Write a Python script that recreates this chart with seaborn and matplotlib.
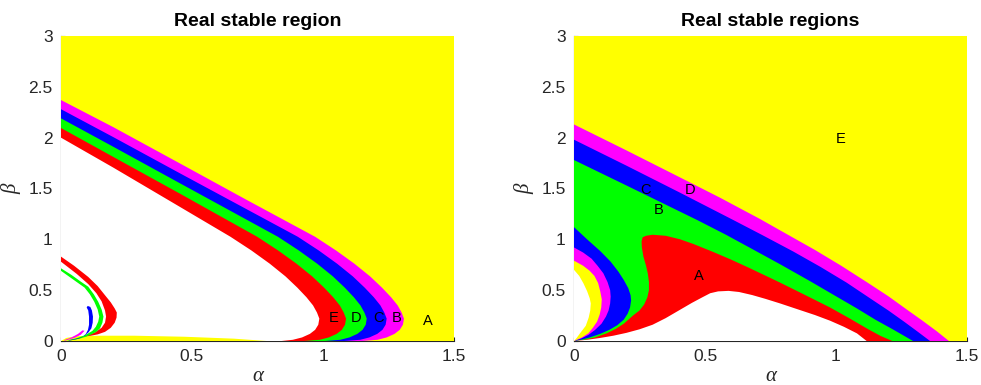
import numpy as np
import matplotlib
matplotlib.use("Agg")
import matplotlib.pyplot as plt
import seaborn as sns

sns.set_theme(style="ticks")
plt.rcParams["font.family"] = ["Liberation Sans", "DejaVu Sans"]

YELLOW, MAGENTA, BLUE, GREEN, RED, WHITE = "#ffff00", "#ff00ff", "#0000ff", "#00ff00", "#ff0000", "#ffffff"
INK = "#262626"

# ---------------- left panel: boundaries of the nested bands (alpha, beta) ----------------
# each runs from the beta axis, round the tip and back down to the alpha axis
L_white_red_a = [0, 0.2, 0.45, 0.647, 0.727, 0.797, 0.857, 0.902, 0.937, 0.962, 0.977, 0.986,
                 0.982, 0.970, 0.950, 0.920, 0.885, 0.842]
L_white_red_b = [2.0, 1.705, 1.325, 1.025, 0.89, 0.76, 0.635, 0.525, 0.43, 0.35, 0.28, 0.22,
                 0.16, 0.11, 0.07, 0.035, 0.012, 0.0]
L_red_green_a = [0, 0.2, 0.45, 0.749, 0.829, 0.899, 0.959, 1.004, 1.039, 1.064, 1.079, 1.088,
                 1.084, 1.072, 1.052, 1.022, 0.987, 0.927]
L_red_green_b = [2.095, 1.81, 1.455, 1.025, 0.89, 0.76, 0.635, 0.525, 0.43, 0.35, 0.28, 0.22,
                 0.16, 0.11, 0.07, 0.035, 0.012, 0.0]
L_green_blue_a = [0, 0.2, 0.45, 0.828, 0.908, 0.978, 1.038, 1.083, 1.118, 1.143, 1.158, 1.167,
                  1.163, 1.151, 1.131, 1.101, 1.066, 1.008]
L_green_blue_b = [2.19, 1.91, 1.557, 1.025, 0.89, 0.76, 0.635, 0.525, 0.43, 0.35, 0.28, 0.22,
                  0.16, 0.11, 0.07, 0.035, 0.012, 0.0]
L_blue_mag_a = [0, 0.2, 0.45, 0.904, 0.984, 1.054, 1.114, 1.159, 1.194, 1.219, 1.234, 1.243,
                1.239, 1.227, 1.207, 1.177, 1.142, 1.080]
L_blue_mag_b = [2.28, 2.005, 1.655, 1.025, 0.89, 0.76, 0.635, 0.525, 0.43, 0.35, 0.28, 0.22,
                0.16, 0.11, 0.07, 0.035, 0.012, 0.0]
L_mag_yel_a = [0, 0.2, 0.45, 0.7, 0.97, 1.05, 1.12, 1.18, 1.225, 1.26, 1.285, 1.30, 1.309,
               1.305, 1.293, 1.273, 1.243, 1.208, 1.150]
L_mag_yel_b = [2.37, 2.103, 1.752, 1.40, 1.025, 0.89, 0.76, 0.635, 0.525, 0.43, 0.35, 0.28, 0.22,
               0.16, 0.11, 0.07, 0.035, 0.012, 0.0]

# small closed pieces near the origin
L_sliver_a = [0, 0.02, 0.06, 0.15, 0.28, 0.47, 0.53, 0.66, 0.785]
L_sliver_b = [0, 0.03, 0.048, 0.052, 0.052, 0.042, 0.036, 0.023, 0.0]
L_red_cres_a = [0, 0.05, 0.104, 0.14, 0.168, 0.19, 0.205, 0.213, 0.212, 0.205, 0.19, 0.168, 0.14,
                0.11, 0.09, 0.10, 0.13, 0.155, 0.168, 0.172, 0.168, 0.155, 0.135, 0.104, 0.06, 0.025, 0]
L_red_cres_b = [0.83, 0.74, 0.63, 0.54, 0.45, 0.38, 0.32, 0.28, 0.23, 0.18, 0.13, 0.09, 0.065,
                0.05, 0.045, 0.055, 0.085, 0.13, 0.18, 0.24, 0.30, 0.39, 0.47, 0.56, 0.66, 0.73, 0.78]
L_grn_cres_a = [0, 0.04, 0.075, 0.104, 0.125, 0.142, 0.155, 0.162, 0.158, 0.149, 0.135, 0.117, 0.095,
                0.07, 0.04, 0.02, 0.035, 0.06, 0.085, 0.104, 0.12, 0.133, 0.142, 0.146, 0.14, 0.127,
                0.11, 0.09, 0.06, 0.03, 0]
L_grn_cres_b = [0.715, 0.65, 0.585, 0.534, 0.46, 0.386, 0.31, 0.24, 0.18, 0.125, 0.09, 0.066, 0.042,
                0.022, 0.008, 0.003, 0.012, 0.028, 0.05, 0.075, 0.10, 0.14, 0.19, 0.24, 0.31, 0.386,
                0.46, 0.525, 0.58, 0.635, 0.69]
L_blu_hook_a = [0.102, 0.112, 0.118, 0.122, 0.121, 0.116, 0.105, 0.09, 0.072, 0.052, 0.03,
                0.028, 0.05, 0.068, 0.083, 0.095, 0.103, 0.107, 0.107, 0.104, 0.098]
L_blu_hook_b = [0.345, 0.335, 0.30, 0.24, 0.18, 0.125, 0.085, 0.052, 0.032, 0.018, 0.008,
                0.004, 0.012, 0.024, 0.042, 0.07, 0.11, 0.16, 0.24, 0.30, 0.33]
L_mag_bit_a = [0.015, 0.05, 0.075, 0.09, 0.082, 0.065, 0.04, 0.012]
L_mag_bit_b = [0.003, 0.03, 0.06, 0.10, 0.105, 0.07, 0.035, 0.008]

# ---------------- right panel ----------------
R_yel_mag_a = [0, 0.2, 0.4, 0.557, 0.71, 0.82, 0.92, 1.02, 1.12, 1.2, 1.27, 1.33, 1.385, 1.431]
R_yel_mag_b = [2.13, 1.875, 1.615, 1.41, 1.20, 1.04, 0.895, 0.74, 0.575, 0.44, 0.31, 0.2, 0.095, 0.0]
R_mag_blue_a = [0, 0.2, 0.4, 0.608, 0.72, 0.837, 0.94, 1.04, 1.13, 1.2, 1.26, 1.31, 1.359]
R_mag_blue_b = [1.98, 1.725, 1.465, 1.19, 1.04, 0.88, 0.73, 0.575, 0.42, 0.3, 0.19, 0.095, 0.0]
R_blue_grn_a = [0, 0.2, 0.47, 0.58, 0.68, 0.79, 0.9, 1.0, 1.08, 1.15, 1.22, 1.294]
R_blue_grn_b = [1.78, 1.53, 1.19, 1.045, 0.905, 0.75, 0.59, 0.44, 0.32, 0.21, 0.11, 0.0]
# red island: left edge up from the origin, then its upper edge down to the alpha axis
R_red_a = [0, 0.04, 0.08, 0.125, 0.16, 0.19, 0.225, 0.25, 0.268, 0.28, 0.286, 0.286, 0.282, 0.275,
           0.265, 0.259, 0.258, 0.262, 0.275, 0.30, 0.35, 0.405, 0.455, 0.532, 0.6, 0.672, 0.786,
           0.88, 0.977, 1.05, 1.12, 1.17, 1.215]
R_red_b = [0, 0.012, 0.035, 0.076, 0.12, 0.17, 0.25, 0.30, 0.36, 0.43, 0.5, 0.58, 0.66, 0.74,
           0.83, 0.92, 0.98, 1.02, 1.035, 1.045, 1.035, 1.0, 0.955, 0.875, 0.80, 0.715, 0.575,
           0.455, 0.33, 0.225, 0.12, 0.05, 0.0]
R_white_a = [0, 0.05, 0.1, 0.15, 0.2, 0.25, 0.3, 0.35, 0.4, 0.45, 0.49, 0.52, 0.55, 0.59, 0.63,
             0.68, 0.73, 0.786, 0.85, 0.92, 0.977, 1.03, 1.08, 1.117]
R_white_b = [0, 0.012, 0.03, 0.052, 0.08, 0.115, 0.16, 0.225, 0.30, 0.375, 0.43, 0.47, 0.488, 0.493,
             0.482, 0.452, 0.415, 0.37, 0.315, 0.255, 0.2, 0.14, 0.075, 0.0]
# crescents hugging the beta axis, each from the axis down to the origin
R_blue_cres_a = [0, 0.05, 0.1, 0.14, 0.17, 0.19, 0.207, 0.216, 0.218, 0.214, 0.205, 0.19, 0.165,
                 0.135, 0.1, 0.06, 0.03, 0]
R_blue_cres_b = [1.12, 1.0, 0.885, 0.78, 0.68, 0.6, 0.52, 0.45, 0.40, 0.33, 0.27, 0.21, 0.155,
                 0.11, 0.07, 0.035, 0.014, 0]
R_mag_cres_a = [0, 0.035, 0.067, 0.09, 0.112, 0.128, 0.138, 0.14, 0.138, 0.132, 0.122, 0.105,
                0.08, 0.055, 0.028, 0]
R_mag_cres_b = [0.92, 0.87, 0.81, 0.74, 0.666, 0.58, 0.5, 0.436, 0.37, 0.30, 0.24, 0.17,
                0.108, 0.06, 0.025, 0]
R_yel_cres_a = [0, 0.035, 0.06, 0.078, 0.092, 0.1, 0.106, 0.104, 0.098, 0.088, 0.072, 0.055, 0.03, 0]
R_yel_cres_b = [0.79, 0.74, 0.69, 0.64, 0.57, 0.49, 0.41, 0.33, 0.26, 0.19, 0.13, 0.076, 0.035, 0]
R_wht_cres_a = [0, 0.02, 0.036, 0.05, 0.06, 0.064, 0.062, 0.056, 0.045, 0.023, 0.01, 0]
R_wht_cres_b = [0.70, 0.64, 0.567, 0.49, 0.42, 0.37, 0.30, 0.23, 0.15, 0.076, 0.03, 0]

L_labels = ["E", "D", "C", "B", "A"]
L_label_a = [1.04, 1.128, 1.21, 1.281, 1.40]
L_label_b = [0.23, 0.23, 0.23, 0.23, 0.20]
R_labels = ["A", "B", "C", "D", "E"]
R_label_a = [0.478, 0.322, 0.271, 0.443, 1.018]
R_label_b = [0.64, 1.29, 1.49, 1.49, 1.99]

x_ticks = [0, 0.5, 1, 1.5]
y_ticks = [0, 0.5, 1, 1.5, 2, 2.5, 3]


def under(ax, a, b, color, z):
    """Fill the region between a boundary curve and the two axes."""
    ax.fill(list(a) + [0], list(b) + [0], color=color, lw=0, zorder=z)


def shape(ax, a, b, color, z):
    ax.fill(a, b, color=color, lw=0, zorder=z)


fig = plt.figure(figsize=(9.81, 3.85), dpi=100)
axL = fig.add_axes([61 / 981, 44 / 385, 393 / 981, 305 / 385])
axR = fig.add_axes([574 / 981, 44 / 385, 393 / 981, 305 / 385])

# left panel
axL.fill([0, 1.5, 1.5, 0], [0, 0, 3, 3], color=YELLOW, lw=0, zorder=1)
under(axL, L_mag_yel_a, L_mag_yel_b, MAGENTA, 2)
under(axL, L_blue_mag_a, L_blue_mag_b, BLUE, 3)
under(axL, L_green_blue_a, L_green_blue_b, GREEN, 4)
under(axL, L_red_green_a, L_red_green_b, RED, 5)
under(axL, L_white_red_a, L_white_red_b, WHITE, 6)
shape(axL, L_sliver_a, L_sliver_b, YELLOW, 7)
shape(axL, L_red_cres_a, L_red_cres_b, RED, 7)
shape(axL, L_grn_cres_a, L_grn_cres_b, GREEN, 7)
shape(axL, L_blu_hook_a, L_blu_hook_b, BLUE, 8)
shape(axL, L_mag_bit_a, L_mag_bit_b, MAGENTA, 8)
for t, a, b in zip(L_labels, L_label_a, L_label_b):
    axL.text(a, b, t, ha="center", va="center", fontsize=10.5, color="black", zorder=10)

# right panel
axR.fill([0, 1.5, 1.5, 0], [0, 0, 3, 3], color=YELLOW, lw=0, zorder=1)
under(axR, R_yel_mag_a, R_yel_mag_b, MAGENTA, 2)
under(axR, R_mag_blue_a, R_mag_blue_b, BLUE, 3)
under(axR, R_blue_grn_a, R_blue_grn_b, GREEN, 4)
shape(axR, R_red_a, R_red_b, RED, 5)
shape(axR, R_white_a, R_white_b, WHITE, 6)
under(axR, R_blue_cres_a, R_blue_cres_b, BLUE, 7)
under(axR, R_mag_cres_a, R_mag_cres_b, MAGENTA, 8)
under(axR, R_yel_cres_a, R_yel_cres_b, YELLOW, 9)
under(axR, R_wht_cres_a, R_wht_cres_b, WHITE, 10)
for t, a, b in zip(R_labels, R_label_a, R_label_b):
    axR.text(a, b, t, ha="center", va="center", fontsize=10.5, color="black", zorder=12)

for ax, title in [(axL, "Real stable region"), (axR, "Real stable regions")]:
    ax.set_xlim(0, 1.5)
    ax.set_ylim(0, 3)
    ax.set_xticks(x_ticks)
    ax.set_xticklabels([f"{v:g}" for v in x_ticks])
    ax.set_yticks(y_ticks)
    ax.set_yticklabels([f"{v:g}" for v in y_ticks])
    ax.set_axisbelow(True)
    sns.despine(ax=ax)
    for s in ("left", "bottom"):
        ax.spines[s].set_color(INK)
        ax.spines[s].set_linewidth(0.8)
        ax.spines[s].set_zorder(0.5)
    ax.tick_params(direction="in", length=3, width=0.8, color=INK, labelcolor=INK,
                   labelsize=12.5, pad=6)
    ax.set_title(title, fontsize=14, fontweight="bold", color="black", pad=7)
    ax.set_xlabel("α", fontsize=15, fontstyle="italic", family=["Liberation Serif", "DejaVu Serif"],
                  color=INK, labelpad=2)
    ax.set_ylabel("β", fontsize=15, fontstyle="italic", family=["Liberation Serif", "DejaVu Serif"],
                  color=INK, labelpad=5)
    ax.grid(False)

fig.savefig("out.png", dpi=100)
